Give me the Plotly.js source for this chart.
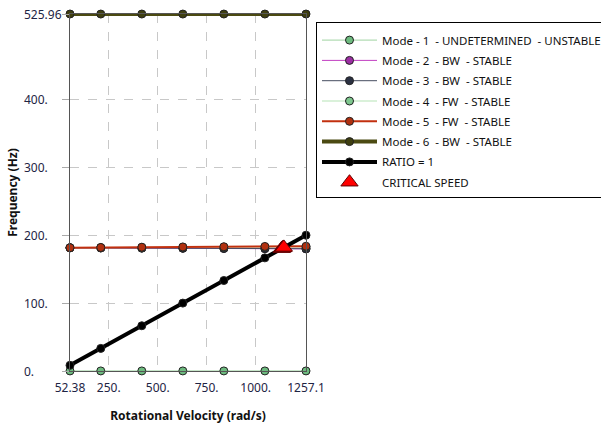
<!DOCTYPE html>
<html><head><meta charset="utf-8">
<script src="https://cdn.plot.ly/plotly-3.0.1.min.js"></script>
<style>body{margin:0;background:#fff}#c{width:601px;height:430px}</style>
</head><body><div id="c"></div>
<script>
const speeds = [52.38, 209.44, 418.88, 628.32, 837.76, 1047.2, 1257.1];
const mode1 = [0.1, 0.1, 0.1, 0.1, 0.1, 0.1, 0.1];
const mode2 = [181.6, 181.4, 181.1, 180.8, 180.5, 180.2, 179.9];
const mode3 = [181.4, 181.2, 181.0, 180.8, 180.6, 180.4, 180.2];
const mode4 = [181.6, 181.8, 182.0, 182.2, 182.4, 182.6, 182.8];
const mode5 = [181.7, 182.0, 182.4, 182.8, 183.1, 183.5, 183.8];
const mode6 = [525.96, 525.9, 525.92, 525.9, 525.93, 525.9, 525.94];
const ratio = [8.34, 33.33, 66.67, 100.0, 133.33, 166.67, 200.07];
const critSpeed = [1133, 1137, 1140, 1144];
const critFreq = [180.3, 181.0, 181.4, 182.1];
const xTickVals = [52.38, 250, 500, 750, 1000, 1257.1];
const xTickText = ['52.38', '250.', '500.', '750.', '1000.', '1257.1'];
const yTickVals = [0, 100, 200, 300, 400, 525.96];
const yTickText = ['0.', '100.', '200.', '300.', '400.', '525.96'];

const FONT = 'Noto Sans, sans-serif';
function mk(name, y, lc, lw, mc) {
  return {x: speeds, y: y, name: name, legendgroup: name, type: 'scatter', mode: 'lines+markers', cliponaxis: false,
    line: {color: lc, width: lw}, marker: {color: mc, size: 8, line: {color: '#222', width: 1}}};
}
const traces = [
  mk('Mode - 1  - UNDETERMINED  - UNSTABLE', mode1, '#9fd3a2', 1, '#6dbb7f'),
  mk('Mode - 2  - BW  - STABLE', mode2, '#c23fc2', 1, '#9c2ea3'),
  mk('Mode - 3  - BW  - STABLE', mode3, '#474e60', 1, '#2b3142'),
  mk('Mode - 4  - FW  - STABLE', mode4, '#b5e3b5', 1, '#7ec78e'),
  mk('Mode - 5  - FW  - STABLE', mode5, '#c2300f', 2, '#b1300f'),
  mk('Mode - 6  - BW  - STABLE', mode6, '#4b4a12', 4, '#3f3f10'),
  mk('RATIO = 1', ratio, '#000000', 4, '#000000'),
  {x: critSpeed, y: critFreq, name: 'CRITICAL SPEED', legendgroup: 'crit', type: 'scatter', mode: 'markers', cliponaxis: false,
    marker: {symbol: 'triangle-up', color: '#ff0000', size: 15, line: {color: '#600000', width: 1}}}
];
const tickFont = {family: FONT, size: 12, color: '#1e2444'};
const yLabels = yTickVals.map((v, i) => ({
  xref: 'paper', yref: 'y', x: -0.203, y: v, xanchor: 'left', yanchor: 'middle',
  text: yTickText[i], showarrow: false, font: tickFont
}));
const layout = {
  width: 601, height: 430,
  margin: {l: 70, r: 295, t: 14, b: 59},
  paper_bgcolor: '#fff', plot_bgcolor: '#fff',
  showlegend: true,
  annotations: yLabels,
  legend: {xref: 'container', yref: 'container', x: 316 / 601, y: 1 - 22 / 430, xanchor: 'left', yanchor: 'top',
    bordercolor: '#000', borderwidth: 1, title: {text: '\u00a0', font: {size: 2}},
    font: {family: FONT, size: 11.5, color: '#111'}, itemwidth: 55, tracegroupgap: 1.3, bgcolor: '#fff'},
  xaxis: {range: [52.38, 1257.1], tickvals: xTickVals, ticktext: xTickText, tickfont: tickFont,
    showgrid: true, gridcolor: '#c8c8c8', griddash: 'dash', zeroline: false,
    showline: true, linecolor: '#555', mirror: true, ticks: '', ticklabelstandoff: 6,
    title: {text: 'Rotational Velocity (rad/s)', font: {family: FONT, size: 12, color: '#111', weight: 'bold'}, standoff: 16}},
  yaxis: {range: [0, 525.96], tickvals: yTickVals, ticktext: yTickText, showticklabels: false,
    showgrid: true, gridcolor: '#c8c8c8', griddash: 'dash', zeroline: false,
    showline: true, linecolor: '#555', mirror: true, ticks: 'outside', ticklen: 7, tickcolor: '#aaa',
    title: {text: 'Frequency (Hz)', font: {family: FONT, size: 12, color: '#111', weight: 'bold'}, standoff: 41}}
};
Plotly.newPlot('c', traces, layout, {displayModeBar: false, staticPlot: true});
</script></body></html>
